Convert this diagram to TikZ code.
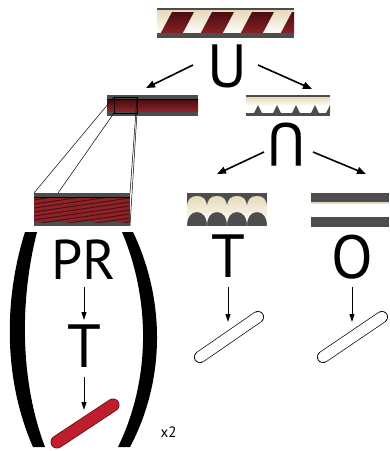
\documentclass[tikz,border=0pt]{standalone}
\usepackage{fontspec}
\setmainfont{PT Sans}
\usetikzlibrary{arrows.meta}
\definecolor{dg}{HTML}{4D4D4D}
\definecolor{cream}{HTML}{E6DABA}
\definecolor{rdark}{HTML}{4A0C10}
\definecolor{rmid}{HTML}{8C2329}
\definecolor{capred}{HTML}{BE1E2D}
\definecolor{capedge}{HTML}{6A0D14}
\begin{document}
\begin{tikzpicture}[x=1pt,y=-1pt,
  bigarrow/.style={line width=1.6pt,-{Triangle[length=9pt,width=7pt]}},
  smallarrow/.style={line width=1pt,-{Triangle[length=8pt,width=5pt]}},
  letter/.style={inner sep=0pt,font=\fontsize{61}{61}\selectfont},
  zoomline/.style={line width=0.5pt,black}]
\useasboundingbox (0,0) rectangle (390,451);
\fill[white] (0,0) rectangle (390,451);

% ---------- top strip (twisted) ----------
\fill[dg] (157,8) rectangle (294,38);
\begin{scope}
  \clip (157,10.5) rectangle (294,34.5);
  \shade[top color=cream,bottom color=white] (157,10.5) rectangle (294,34.5);
  \foreach \x in {142,182,222,262,302} {
    \shade[top color=rdark,bottom color=rmid] ({\x+18},34.5) -- ({\x+40},34.5) -- ({\x+52},12) -- ({\x+30},12) -- cycle;
  }
  \fill[dg] (157,33) rectangle (294,34.5);
\end{scope}

% ---------- middle-left strip ----------
\fill[dg] (107,95) rectangle (198,116);
\shade[top color=rdark,bottom color=rmid] (107,99.5) rectangle (198,111);
\draw[black,line width=0.8pt] (107,99.5) -- (198,99.5);
\draw[line width=0.6pt] (114,97) rectangle (137,113);

% ---------- wavy strip ----------
\fill[dg] (246,95) rectangle (330,116);
\begin{scope}
  \clip (246,95) rectangle (330,116);
  \shade[top color=cream,bottom color=white] (246,97.5) rectangle (330,106);
  \fill[white] (246,106) rectangle (330,112.5);
  \foreach \x in {258,277,296,315,330} {
    \fill[dg] ({\x-4},113) -- (\x,105) -- ({\x+4},113) -- cycle;
  }
\end{scope}

% ---------- zoom lines ----------
\coordinate (zA) at (114,97);
\coordinate (zB) at (114,113);
\coordinate (zC) at (137,97);
\coordinate (zD) at (137,113);
\coordinate (zA2) at (34,193);
\coordinate (zB2) at (58,193);
\coordinate (zC2) at (130,193);
\coordinate (zD2) at (130,226);
\draw[zoomline] (zA) -- (zA2);
\draw[zoomline] (zB) -- (zB2);
\draw[zoomline] (zC) -- (zC2);
\draw[zoomline] (zD) -- (zD2);

% ---------- bottom-left magnified strip ----------
\fill[dg] (34,193) rectangle (130,226);
\begin{scope}
  \clip (34,197) rectangle (130,222);
  \fill[rmid] (34,197) rectangle (130,222);
  \foreach \y in {190,194,...,240} {
    \draw[rdark,line width=0.9pt] (34,{\y+6}) -- (130,{\y-8});
  }
\end{scope}
\draw[black,line width=0.8pt] (34,197) -- (130,197);

% ---------- T strip (bumps) ----------
\fill[dg] (187,193) rectangle (267,226);
\shade[top color=cream,bottom color=white]
  (187,208)
  \foreach \k in {0,1,2,3} {
    .. controls ({187+20*\k},199) and ({187+20*\k+4},196) .. ({187+20*\k+10},196)
    .. controls ({187+20*\k+16},196) and ({187+20*\k+20},199) .. ({187+20*\k+20},208)
  }
  -- (267,226)
  \foreach \k in {3,2,1,0} {
    .. controls ({187+20*\k+20},217) and ({187+20*\k+16},212) .. ({187+20*\k+10},212)
    .. controls ({187+20*\k+4},212) and ({187+20*\k},217) .. ({187+20*\k},226)
  }
  -- cycle;

% ---------- O strip ----------
\fill[dg] (311,193) rectangle (389,202);
\fill[cream] (311,202) rectangle (389,204);
\fill[dg] (311,217) rectangle (389,227);

% ---------- letters ----------
\node[letter] (U) at (227,66.5) {U};
\node[letter,rotate=180] (cap) at (287,145) {U};
\node[letter] (T1) at (228,256.5) {T};
\node[letter] (O) at (352,257.5) {O};
\node[inner sep=0pt,font=\fontsize{56}{56}\selectfont] (PR) at (83.5,259.5) {PR};
\node[letter] (T2) at (84,346.5) {T};
\node[inner sep=0pt,font=\fontsize{15}{15}\selectfont] (x2) at (168.5,432.5) {x2};

% ---------- arrows ----------
\coordinate (UL1) at (193,65); \coordinate (UL2) at (146,88);
\coordinate (UR1) at (258,65); \coordinate (UR2) at (312,89);
\coordinate (CL1) at (264,152); \coordinate (CL2) at (217,174);
\coordinate (CR1) at (313,152); \coordinate (CR2) at (366,174);
\draw[bigarrow] (UL1) -- (UL2);
\draw[bigarrow] (UR1) -- (UR2);
\draw[bigarrow] (CL1) -- (CL2);
\draw[bigarrow] (CR1) -- (CR2);

\coordinate (a1) at (84,287); \coordinate (a2) at (84,320);
\coordinate (b1) at (84,377); \coordinate (b2) at (84,410);
\coordinate (c1) at (228,287); \coordinate (c2) at (228,322);
\coordinate (d1) at (352,287); \coordinate (d2) at (352,322);
\draw[smallarrow] (a1) -- (a2);
\draw[smallarrow] (b1) -- (b2);
\draw[smallarrow] (c1) -- (c2);
\draw[smallarrow] (d1) -- (d2);

% ---------- capsules ----------
\coordinate (r1) at (57,442); \coordinate (r2) at (113,405);
\draw[capedge,line width=13pt,line cap=round] (r1) -- (r2);
\draw[capred,line width=11.4pt,line cap=round] (r1) -- (r2);
\coordinate (w1) at (200,357); \coordinate (w2) at (258,317);
\draw[black,line width=12pt,line cap=round] (w1) -- (w2);
\draw[white,line width=10.6pt,line cap=round] (w1) -- (w2);
\coordinate (v1) at (323,357); \coordinate (v2) at (382,317);
\draw[black,line width=12pt,line cap=round] (v1) -- (v2);
\draw[white,line width=10.6pt,line cap=round] (v1) -- (v2);

% ---------- parentheses ----------
\fill[black] (25,232) .. controls (3.5,300) and (3.5,380) .. (33,447) -- (45,447)
  .. controls (19.7,380) and (19.7,300) .. (37,232) -- cycle;
\fill[black] (133,232) .. controls (165.5,300) and (165.5,380) .. (130,447) -- (118,447)
  .. controls (150.7,380) and (150.7,300) .. (122,232) -- cycle;
\end{tikzpicture}
\end{document}
